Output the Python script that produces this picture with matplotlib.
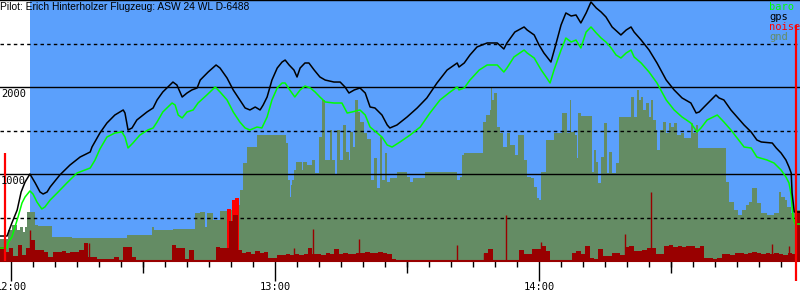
import matplotlib.pyplot as plt
from matplotlib.transforms import blended_transform_factory

# time in minutes after 12:00, altitude in metres

gps_t = [-2.5, -0.9, 0.2, 1.4, 2.3, 3.2, 4.3, 5.5, 6.6, 7.3,
         8.2, 8.9, 11.1, 13.4, 15.7, 18.0, 18.4, 20.2, 21.8, 23.6,
         25.5, 25.9, 26.6, 27.5, 28.6, 30.9, 32.3, 33.2, 34.5, 36.8,
         37.7, 38.9, 40.0, 41.1, 42.3, 43.0, 44.8, 46.6, 47.5, 49.1,
         50.5, 52.0, 53.2, 54.3, 55.5, 56.6, 57.3, 58.2, 59.3, 60.5,
         61.6, 62.3, 63.2, 64.3, 65.0, 65.7, 66.8, 67.7, 68.9, 70.2,
         71.4, 73.4, 74.8, 75.9, 76.8, 78.0, 79.3, 80.5, 81.6, 82.7,
         84.3, 85.5, 86.1, 87.7, 90.0, 92.3, 94.5, 96.8, 99.1, 101.4,
         101.8, 103.0, 104.3, 105.9, 108.2, 110.5, 112.0, 112.7, 114.5, 116.6,
         117.3, 118.9, 120.0, 121.1, 122.7, 123.9, 125.0, 126.1, 127.3, 128.4,
         129.5, 130.7, 131.8, 133.0, 134.1, 135.2, 136.6, 138.6, 139.8, 140.9,
         141.6, 143.2, 145.0, 146.8, 148.9, 150.7, 152.5, 154.5, 155.7, 156.4,
         157.5, 159.1, 160.2, 160.9, 162.0, 163.6, 165.0, 166.6, 168.2, 169.5,
         170.5, 173.0, 173.9, 175.0, 176.1, 176.8, 177.3, 177.5, 178.0, 179.3]
gps_alt = [287, 287, 437, 586, 793, 908, 1000, 897, 793, 770,
           793, 851, 989, 1103, 1195, 1253, 1310, 1471, 1586, 1678,
           1736, 1701, 1506, 1529, 1621, 1713, 1759, 1851, 1943, 2057,
           2023, 1885, 1931, 1966, 1989, 2080, 2172, 2253, 2218, 2103,
           1966, 1851, 1759, 1736, 1770, 1736, 1793, 1885, 2080, 2218,
           2287, 2310, 2253, 2195, 2115, 2218, 2276, 2276, 2195, 2115,
           2080, 2057, 2057, 2000, 1931, 1966, 1989, 1931, 1770, 1759,
           1678, 1563, 1529, 1563, 1655, 1759, 1874, 2046, 2195, 2276,
           2230, 2276, 2368, 2460, 2506, 2506, 2437, 2506, 2632, 2690,
           2655, 2598, 2483, 2391, 2287, 2506, 2713, 2851, 2816, 2828,
           2736, 2851, 2977, 2908, 2862, 2805, 2690, 2598, 2655, 2690,
           2632, 2540, 2425, 2276, 2080, 1966, 1874, 1816, 1701, 1713,
           1770, 1851, 1908, 1874, 1851, 1736, 1655, 1563, 1483, 1391,
           1368, 1356, 1299, 1241, 1161, 1080, 1011, 782, 563, 563]

baro_t = [-2.5, -0.9, -0.7, 0.2, 0.9, 1.6, 2.5, 3.2, 4.3, 5.0,
          5.9, 7.0, 7.7, 8.9, 10.5, 12.7, 15.0, 18.0, 19.1, 20.2,
          21.8, 23.6, 25.2, 25.9, 26.6, 27.7, 29.3, 31.1, 32.3, 33.2,
          34.5, 36.6, 37.3, 38.0, 38.9, 40.0, 41.4, 42.5, 44.5, 46.4,
          47.5, 49.1, 50.5, 52.0, 53.2, 54.3, 55.9, 57.0, 58.2, 59.3,
          60.5, 61.6, 62.3, 63.2, 64.5, 65.7, 66.8, 68.0, 69.1, 70.2,
          71.4, 73.4, 75.2, 76.4, 77.5, 79.3, 80.5, 81.6, 83.2, 84.3,
          85.5, 86.6, 88.4, 90.7, 93.0, 95.2, 97.5, 99.8, 101.4, 101.8,
          103.0, 104.3, 106.4, 108.2, 110.5, 112.0, 112.7, 114.3, 116.6, 117.3,
          118.9, 120.5, 121.6, 122.5, 123.4, 125.0, 126.1, 127.3, 128.4, 129.5,
          130.7, 131.8, 133.0, 134.1, 135.2, 136.4, 137.5, 138.6, 139.8, 140.9,
          141.6, 143.2, 145.0, 146.8, 148.9, 150.7, 152.5, 154.5, 155.9, 156.8,
          158.2, 160.5, 162.0, 163.6, 165.0, 166.6, 168.2, 169.5, 171.8, 173.4,
          175.0, 176.1, 176.8, 177.3, 177.7, 178.2, 179.3]
baro_alt = [149, 149, 207, 276, 391, 506, 667, 736, 805, 770,
            678, 598, 621, 701, 782, 897, 1011, 1069, 1161, 1287,
            1425, 1471, 1483, 1425, 1299, 1356, 1448, 1506, 1529, 1598,
            1713, 1816, 1793, 1678, 1644, 1713, 1736, 1816, 1908, 2000,
            1943, 1851, 1713, 1598, 1529, 1506, 1540, 1529, 1655, 1851,
            1989, 2046, 2046, 1977, 1885, 1966, 2011, 1989, 1943, 1885,
            1828, 1816, 1816, 1701, 1713, 1736, 1678, 1540, 1471, 1425,
            1333, 1310, 1368, 1448, 1540, 1701, 1851, 1943, 2000, 1966,
            1989, 2080, 2195, 2253, 2253, 2172, 2218, 2345, 2425, 2391,
            2333, 2195, 2115, 2046, 2195, 2425, 2563, 2517, 2540, 2448,
            2632, 2690, 2621, 2563, 2517, 2448, 2368, 2333, 2391, 2425,
            2345, 2276, 2172, 2046, 1851, 1736, 1655, 1586, 1483, 1529,
            1621, 1678, 1598, 1506, 1414, 1310, 1299, 1195, 1161, 1126,
            1046, 966, 897, 759, 506, 425, 425]

gnd_t = [-2.5, -0.7, 0.2, 1.4, 2.0, 2.7, 3.2, 3.6, 5.5, 6.1,
         9.3, 13.9, 26.4, 32.0, 32.5, 36.8, 41.8, 43.0, 44.1, 44.5,
         45.9, 47.5, 49.1, 50.5, 52.0, 52.7, 53.6, 55.9, 62.5, 63.0,
         63.4, 63.6, 63.9, 64.3, 64.8, 66.1, 66.4, 67.3, 68.4, 69.1,
         70.0, 70.7, 71.4, 72.5, 73.0, 73.6, 74.1, 74.8, 75.5, 76.1,
         76.8, 77.0, 77.7, 78.2, 78.9, 79.3, 80.2, 80.9, 81.8, 82.5,
         83.2, 83.9, 84.3, 85.0, 85.5, 86.1, 87.7, 90.0, 90.7, 91.4,
         94.1, 101.4, 102.0, 102.5, 103.0, 107.3, 108.0, 108.9, 109.1, 109.3,
         109.8, 110.5, 111.1, 111.8, 112.7, 113.4, 114.5, 115.2, 116.6, 117.3,
         118.2, 118.9, 119.5, 120.0, 120.5, 121.6, 123.4, 125.2, 126.4, 127.0,
         127.3, 128.2, 128.6, 128.9, 129.5, 132.0, 132.5, 133.0, 133.4, 134.1,
         134.8, 135.5, 135.9, 136.6, 137.5, 138.2, 140.9, 141.6, 142.3, 142.7,
         143.2, 143.6, 144.3, 145.0, 145.5, 145.9, 146.6, 146.8, 147.5, 148.2,
         148.9, 149.5, 150.0, 150.7, 151.4, 152.3, 153.0, 154.5, 155.0, 155.7,
         156.1, 162.5, 163.2, 164.3, 165.2, 166.1, 167.0, 167.7, 168.4, 169.5,
         170.5, 171.8, 173.4, 174.5, 175.0, 175.9, 176.4, 177.3, 178.6, 179.3]
gnd_alt = [253, 356, 414, 356, 391, 333, 391, 563, 414, 402,
           276, 264, 299, 391, 356, 368, 552, 563, 391, 552,
           471, 575, 586, 644, 816, 1126, 1310, 1448, 1356, 931,
           736, 874, 931, 1046, 1138, 1046, 1138, 1103, 1161, 1011,
           1425, 1851, 1161, 1506, 1161, 988, 1506, 1161, 1563, 1253,
           1161, 1483, 1310, 1851, 1713, 1598, 1471, 1402, 931, 1184,
           839, 1425, 931, 1241, 908, 954, 1023, 965, 908, 954,
           1023, 931, 965, 1218, 1241, 1598, 1678, 1736, 1989, 1851,
           1931, 1540, 1471, 1310, 1471, 1333, 1218, 1448, 1161, 965,
           954, 851, 724, 701, 1023, 1391, 1471, 1701, 1471, 1851,
           1483, 1448, 1184, 1701, 1667, 1023, 1276, 1138, 897, 1195,
           1586, 1011, 1253, 1011, 1126, 1655, 1885, 1655, 1966, 1851,
           1885, 1736, 1816, 1655, 1851, 1621, 1506, 1276, 1506, 1598,
           1471, 1586, 1540, 1586, 1448, 1471, 1414, 1586, 1471, 1563,
           1299, 908, 678, 586, 529, 586, 644, 678, 839, 667,
           552, 529, 552, 793, 736, 701, 621, 552, 586, 586]

# engine noise, one sample per minute from 11:58 to 14:59
noise_t = list(range(-2, 180))
noise = [161, 103, 149, 57, 184, 69, 149, 241, 126, 126,
         103, 46, 103, 103, 115, 92, 103, 103, 126, 207,
         46, 46, 23, 23, 23, 23, 46, 11, 161, 161,
         46, 11, 11, 11, 11, 11, 11, 11, 11, 184,
         149, 149, 23, 126, 11, 11, 11, 11, 11, 161,
         149, 149, 460, 529, 126, 92, 103, 80, 115, 92,
         103, 34, 34, 69, 69, 80, 69, 80, 69, 80,
         149, 80, 80, 69, 92, 80, 138, 80, 92, 80,
         80, 92, 92, 103, 92, 92, 103, 92, 80, 23,
         11, 6, 6, 6, 6, 6, 6, 6, 6, 6,
         6, 6, 6, 6, 6, 6, 6, 6, 6, 6,
         92, 138, 11, 6, 11, 6, 6, 6, 126, 80,
         80, 138, 138, 172, 115, 6, 6, 6, 6, 6,
         92, 115, 80, 172, 34, 23, 138, 57, 57, 92,
         92, 69, 161, 172, 115, 115, 126, 149, 149, 80,
         80, 172, 184, 161, 172, 161, 172, 172, 149, 172,
         34, 34, 23, 34, 80, 80, 69, 92, 92, 80,
         92, 103, 92, 80, 92, 80, 92, 80, 69, 92,
         80, 575]
spike_t = [4.3, 17.7, 40.9, 64.3, 68.6, 79.1, 101.4, 107.5, 112.5, 120.5, 139.5, 145.5, 173.0, 176.8]
spike = [356, 207, 126, 149, 368, 253, 184, 92, 529, 218, 310, 793, 195, 172]
peak_t = [49.6, 50.6, 51.4]
peak = [598, 701, 724]
edge_t = [-1.4, 178.4]
edge_low = [0, -230]
edge = [1241, 2713]

sky_start = 4.3
t_end = 179.3

SKY = "#5ba0fc"
GND = "#648c64"
DARK = "#990000"
MONO = "DejaVu Sans Mono"

fig = plt.figure(figsize=(8, 3), dpi=100)
ax = fig.add_axes([0, 39 / 300, 1, 261 / 300])
ax.set_xlim(-2.5, t_end)
ax.set_ylim(0, 3000)

ax.axvspan(sky_start, t_end, color=SKY, lw=0, zorder=0)
ax.fill_between(gnd_t, gnd_alt, step="post", color=GND, lw=0, zorder=1)

for y in (1000, 2000, 3000):
    ax.axhline(y, color="black", lw=1, zorder=2)
for y in (500, 1500, 2500):
    ax.axhline(y, color="black", lw=1, dashes=(2.5, 2.3), zorder=2)

ax.bar(peak_t, peak, width=0.9, color="red", lw=0, zorder=3)
ax.bar(noise_t, noise, width=1.0, color=DARK, lw=0, zorder=4)
ax.vlines(spike_t, 0, spike, color=DARK, lw=1, zorder=4)
ax.vlines(edge_t, edge_low, edge, color="red", lw=1.6, zorder=8, clip_on=False)

ax.plot(baro_t, baro_alt, color="#00ff00", lw=1.1, zorder=5)
ax.plot(gps_t, gps_alt, color="black", lw=1.1, zorder=6)
ax.axhline(0, color=DARK, lw=1.5, zorder=7, clip_on=False)

for s in ax.spines.values():
    s.set_visible(False)
ax.set_yticks([])
ax.set_xticks([0, 60, 120], labels=["12:00", "13:00", "14:00"])
ax.set_xticks(range(5, 180, 5), minor=True)
ax.tick_params(axis="x", which="major", length=14.4, width=1, pad=1,
               labelsize=7.5)
ax.tick_params(axis="x", which="minor", length=4.3, width=1)
for lab in ax.get_xticklabels():
    lab.set_family(MONO)

half = ax.secondary_xaxis("bottom")
half.set_xticks([30, 90, 150], labels=[])
half.tick_params(length=8.6, width=1)
half.spines["bottom"].set_visible(False)

tr = blended_transform_factory(ax.transAxes, ax.transData)
for y in (1000, 2000):
    ax.text(0.001, y - 25, str(y), transform=tr, ha="left", va="top",
            family=MONO, fontsize=7.5, zorder=9)

fig.text(0, 1 - 7 / 300, "Pilot: Erich Hinterholzer Flugzeug: ASW 24 WL D-6488",
         ha="left", va="center", fontsize=7.4, family="Liberation Sans")

legend = [("baro", "#00ff00"), ("gps", "black"), ("noise", "red"), ("gnd", GND)]
for i, (name, col) in enumerate(legend):
    fig.text(769 / 800, 1 - (7 + 10 * i) / 300, name, color=col,
             ha="left", va="center", family=MONO, fontsize=7.5)

fig.savefig("out.png", dpi=100)
